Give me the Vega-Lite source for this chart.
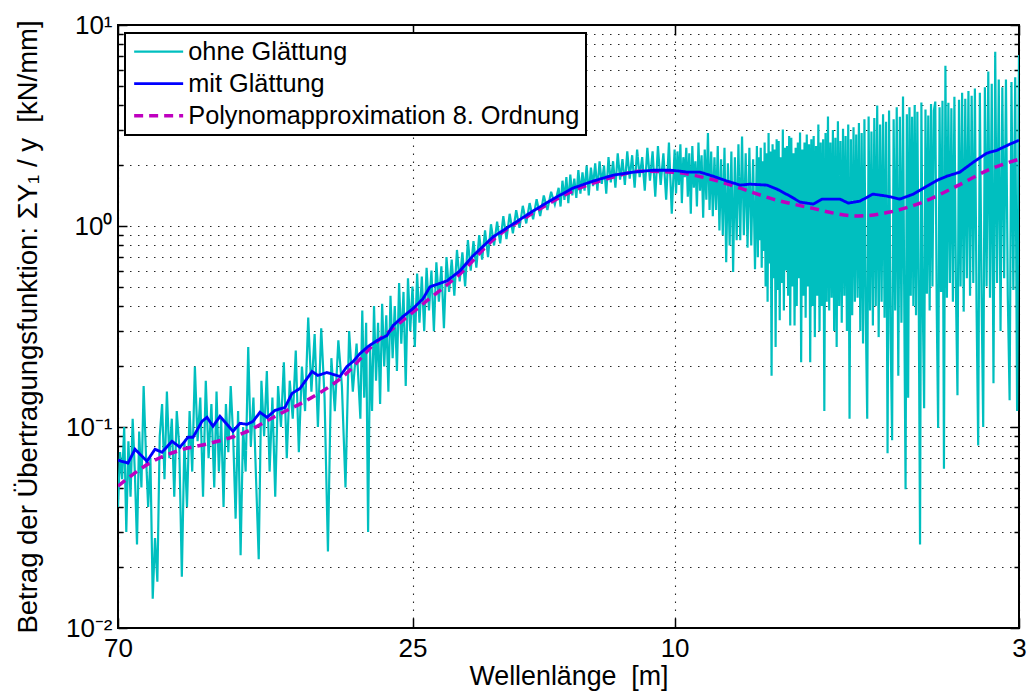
{
"$schema": "https://vega.github.io/schema/vega-lite/v6.json",
"width": 901, "height": 603,
"autosize": {"type": "none"},
"padding": {"left": 118, "top": 25, "right": 8, "bottom": 70},
"background": "white",
"config": {
  "font": "Liberation Sans",
  "view": {"stroke": "black", "strokeWidth": 2},
  "axis": {"domain": false, "labelColor": "black", "titleColor": "black", "titleFontWeight": "normal", "tickColor": "black", "tickWidth": 1.5, "labelFontSize": 26, "titleFontSize": 26.8, "grid": true, "gridDash": [1.5, 6.5], "gridColor": "black", "gridOpacity": 0.85, "gridWidth": 1.1, "labelOverlap": false, "labelBound": false, "labelFlush": false},
  "legend": {"strokeWidth": 2}
},
"datasets": {
"cyan": [
{"s":"a","l":70,"v":0.040},{"s":"a","l":69.5,"v":0.075},{"s":"a","l":69,"v":0.055},{"s":"a","l":68.5,"v":0.10},{"s":"a","l":68,"v":0.030},{"s":"a","l":67.5,"v":0.085},{"s":"a","l":67,"v":0.045},{"s":"a","l":66.5,"v":0.11},{"s":"a","l":66,"v":0.060},{"s":"a","l":65.5,"v":0.026},{"s":"a","l":65,"v":0.095},{"s":"a","l":64.5,"v":0.050},{"s":"a","l":64,"v":0.16},{"s":"a","l":63.5,"v":0.075},{"s":"a","l":63,"v":0.040},{"s":"a","l":62.5,"v":0.070},{"s":"a","l":62,"v":0.014},{"s":"a","l":61.5,"v":0.028},{"s":"a","l":61,"v":0.017},{"s":"a","l":60.5,"v":0.090},{"s":"a","l":60,"v":0.13},{"s":"a","l":59.5,"v":0.055},{"s":"a","l":59,"v":0.15},{"s":"a","l":58.5,"v":0.070},{"s":"a","l":58,"v":0.11},{"s":"a","l":57.5,"v":0.045},{"s":"a","l":57,"v":0.12},{"s":"a","l":56.5,"v":0.080},{"s":"a","l":56,"v":0.018},{"s":"a","l":55.5,"v":0.085},{"s":"a","l":55,"v":0.040},{"s":"a","l":54.5,"v":0.12},{"s":"a","l":54,"v":0.060},{"s":"a","l":53.5,"v":0.20},{"s":"a","l":53,"v":0.085},{"s":"a","l":52.5,"v":0.14},{"s":"a","l":52,"v":0.045},{"s":"a","l":51.5,"v":0.17},{"s":"a","l":51,"v":0.070},{"s":"a","l":50.5,"v":0.13},{"s":"a","l":50,"v":0.050},
{"s":"a","l":49.6,"v":0.15},{"s":"a","l":49.2,"v":0.060},{"s":"a","l":48.8,"v":0.11},{"s":"a","l":48.4,"v":0.040},{"s":"a","l":48,"v":0.13},{"s":"a","l":47.6,"v":0.075},{"s":"a","l":47.2,"v":0.16},{"s":"a","l":46.8,"v":0.090},{"s":"a","l":46.4,"v":0.035},{"s":"a","l":46,"v":0.12},{"s":"a","l":45.6,"v":0.023},{"s":"a","l":45.2,"v":0.10},{"s":"a","l":44.8,"v":0.060},{"s":"a","l":44.4,"v":0.25},{"s":"a","l":44,"v":0.080},{"s":"a","l":43.6,"v":0.14},{"s":"a","l":43.2,"v":0.055},{"s":"a","l":42.8,"v":0.022},{"s":"a","l":42.4,"v":0.17},{"s":"a","l":42,"v":0.090},{"s":"a","l":41.6,"v":0.19},{"s":"a","l":41.2,"v":0.060},{"s":"a","l":40.8,"v":0.14},{"s":"a","l":40.4,"v":0.045},{"s":"a","l":40,"v":0.16},{"s":"a","l":39.6,"v":0.10},{"s":"a","l":39.2,"v":0.21},{"s":"a","l":38.8,"v":0.070},{"s":"a","l":38.4,"v":0.17},{"s":"a","l":38,"v":0.11},{"s":"a","l":37.6,"v":0.24},{"s":"a","l":37.2,"v":0.075},{"s":"a","l":36.8,"v":0.20},{"s":"a","l":36.4,"v":0.12},{"s":"a","l":36,"v":0.35},{"s":"a","l":35.6,"v":0.15},{"s":"a","l":35.2,"v":0.29},{"s":"a","l":34.8,"v":0.10},{"s":"a","l":34.4,"v":0.31},{"s":"a","l":34,"v":0.14},{"s":"a","l":33.6,"v":0.024},{"s":"a","l":33.2,"v":0.22},{"s":"a","l":32.8,"v":0.12},{"s":"a","l":32.4,"v":0.27},{"s":"a","l":32,"v":0.16},{"s":"a","l":31.6,"v":0.050},{"s":"a","l":31.2,"v":0.30},{"s":"a","l":30.8,"v":0.15},{"s":"a","l":30.4,"v":0.26},{"s":"a","l":30,"v":0.11},
{"s":"a","l":29.8,"v":0.38},{"s":"a","l":29.6,"v":0.14},{"s":"a","l":29.4,"v":0.33},{"s":"a","l":29.2,"v":0.030},{"s":"a","l":29,"v":0.25},{"s":"a","l":28.8,"v":0.12},{"s":"a","l":28.6,"v":0.40},{"s":"a","l":28.4,"v":0.17},{"s":"a","l":28.2,"v":0.33},{"s":"a","l":28,"v":0.13},{"s":"a","l":27.8,"v":0.41},{"s":"a","l":27.6,"v":0.20},{"s":"a","l":27.4,"v":0.36},{"s":"a","l":27.2,"v":0.15},{"s":"a","l":27,"v":0.45},{"s":"a","l":26.8,"v":0.22},{"s":"a","l":26.6,"v":0.40},{"s":"a","l":26.4,"v":0.19},{"s":"a","l":26.2,"v":0.52},{"s":"a","l":26,"v":0.26},{"s":"a","l":25.8,"v":0.47},{"s":"a","l":25.6,"v":0.16},{"s":"a","l":25.4,"v":0.55},{"s":"a","l":25.2,"v":0.30},{"s":"a","l":25,"v":0.50},{"s":"a","l":24.8,"v":0.25},{"s":"a","l":24.6,"v":0.58},{"s":"a","l":24.4,"v":0.33},{"s":"a","l":24.2,"v":0.56},{"s":"a","l":24,"v":0.30},{"s":"a","l":23.8,"v":0.62},{"s":"a","l":23.6,"v":0.38},{"s":"a","l":23.4,"v":0.60},{"s":"a","l":23.2,"v":0.30},{"s":"a","l":23,"v":0.66},{"s":"a","l":22.8,"v":0.42},{"s":"a","l":22.6,"v":0.63},{"s":"a","l":22.4,"v":0.31},{"s":"a","l":22.2,"v":0.70},{"s":"a","l":22,"v":0.47},{"s":"a","l":21.8,"v":0.68},{"s":"a","l":21.6,"v":0.45},{"s":"a","l":21.4,"v":0.76},{"s":"a","l":21.2,"v":0.53},{"s":"a","l":21,"v":0.74},{"s":"a","l":20.8,"v":0.50},{"s":"a","l":20.6,"v":0.85},{"s":"a","l":20.4,"v":0.60},{"s":"a","l":20.2,"v":0.84},{"s":"a","l":20,"v":0.62},{"s":"a","l":19.8,"v":0.90},{"s":"a","l":19.6,"v":0.68},{"s":"a","l":19.4,"v":0.95},{"s":"a","l":19.2,"v":0.70},{"s":"a","l":19,"v":1.02},{"s":"a","l":18.8,"v":0.80},{"s":"a","l":18.6,"v":1.05},{"s":"a","l":18.4,"v":0.82},{"s":"a","l":18.2,"v":1.12},{"s":"a","l":18,"v":0.86},{"s":"a","l":17.8,"v":1.15},{"s":"a","l":17.6,"v":0.92},{"s":"a","l":17.4,"v":1.20},{"s":"a","l":17.2,"v":0.98},{"s":"a","l":17,"v":1.26},{"s":"a","l":16.8,"v":1.03},{"s":"a","l":16.6,"v":1.30},{"s":"a","l":16.4,"v":1.08},{"s":"a","l":16.2,"v":1.36},{"s":"a","l":16,"v":1.12},{"s":"a","l":15.8,"v":1.42},{"s":"a","l":15.6,"v":1.20},{"s":"a","l":15.4,"v":1.48},{"s":"a","l":15.2,"v":1.28},{"s":"a","l":15,"v":1.55},
{"s":"a","l":14.9,"v":1.25},{"s":"a","l":14.8,"v":1.68},{"s":"a","l":14.7,"v":1.35},{"s":"a","l":14.6,"v":1.75},{"s":"a","l":14.5,"v":1.30},{"s":"a","l":14.4,"v":1.80},{"s":"a","l":14.3,"v":1.42},{"s":"a","l":14.2,"v":1.72},{"s":"a","l":14.1,"v":1.38},{"s":"a","l":14,"v":1.90},{"s":"a","l":13.9,"v":1.45},{"s":"a","l":13.8,"v":1.85},{"s":"a","l":13.7,"v":1.50},{"s":"a","l":13.6,"v":2.00},{"s":"a","l":13.5,"v":1.42},{"s":"a","l":13.4,"v":1.95},{"s":"a","l":13.3,"v":1.58},{"s":"a","l":13.2,"v":2.05},{"s":"a","l":13.1,"v":1.50},{"s":"a","l":13,"v":2.10},{"s":"a","l":12.9,"v":1.62},{"s":"a","l":12.8,"v":2.00},{"s":"a","l":12.7,"v":1.45},{"s":"a","l":12.6,"v":2.20},{"s":"a","l":12.5,"v":1.65},{"s":"a","l":12.4,"v":2.10},{"s":"a","l":12.3,"v":1.55},{"s":"a","l":12.2,"v":2.30},{"s":"a","l":12.1,"v":1.70},{"s":"a","l":12,"v":2.15},{"s":"a","l":11.9,"v":1.60},{"s":"a","l":11.8,"v":2.35},{"s":"a","l":11.7,"v":1.72},{"s":"a","l":11.6,"v":2.25},{"s":"a","l":11.5,"v":1.55},{"s":"a","l":11.4,"v":2.40},{"s":"a","l":11.3,"v":1.75},{"s":"a","l":11.2,"v":2.20},{"s":"a","l":11.1,"v":1.50},{"s":"a","l":11,"v":2.45},{"s":"a","l":10.9,"v":1.68},{"s":"a","l":10.8,"v":2.35},{"s":"a","l":10.7,"v":1.40},{"s":"a","l":10.6,"v":2.50},{"s":"a","l":10.5,"v":1.60},{"s":"a","l":10.4,"v":2.30},{"s":"a","l":10.3,"v":1.35},{"s":"a","l":10.2,"v":2.60},{"s":"a","l":10.1,"v":1.15},{"s":"a","l":10,"v":2.40},
{"s":"a","l":9.95,"v":1.45},{"s":"a","l":9.9,"v":2.35},{"s":"a","l":9.85,"v":1.60},{"s":"a","l":9.8,"v":2.55},{"s":"a","l":9.75,"v":1.30},{"s":"a","l":9.7,"v":2.20},{"s":"a","l":9.65,"v":1.75},{"s":"a","l":9.6,"v":2.45},{"s":"a","l":9.55,"v":1.40},{"s":"a","l":9.5,"v":2.30},{"s":"a","l":9.45,"v":1.15},{"s":"a","l":9.4,"v":2.50},{"s":"a","l":9.35,"v":1.55},{"s":"a","l":9.3,"v":2.10},{"s":"a","l":9.25,"v":1.25},{"s":"a","l":9.2,"v":2.60},{"s":"a","l":9.15,"v":1.50},{"s":"a","l":9.1,"v":2.25},{"s":"a","l":9.05,"v":1.10},{"s":"a","l":9,"v":2.40},{"s":"a","l":8.95,"v":1.35},{"s":"a","l":8.9,"v":2.90},{"s":"a","l":8.85,"v":1.20},{"s":"a","l":8.8,"v":2.35},{"s":"a","l":8.75,"v":1.12},{"s":"a","l":8.7,"v":2.20},{"s":"a","l":8.65,"v":1.20},{"s":"a","l":8.6,"v":2.50},{"s":"a","l":8.55,"v":0.95},{"s":"a","l":8.5,"v":2.15},{"s":"a","l":8.45,"v":0.90},{"s":"a","l":8.4,"v":2.45},{"s":"a","l":8.35,"v":0.66},{"s":"a","l":8.3,"v":2.05},{"s":"a","l":8.25,"v":0.80},{"s":"a","l":8.2,"v":2.35},{"s":"a","l":8.15,"v":0.59},{"s":"a","l":8.1,"v":2.20},{"s":"a","l":8.05,"v":0.85},{"s":"a","l":8,"v":2.55},{"s":"a","l":7.95,"v":0.85},{"s":"a","l":7.9,"v":2.79},{"s":"a","l":7.85,"v":0.90},{"s":"a","l":7.8,"v":2.30},{"s":"a","l":7.75,"v":0.78},{"s":"a","l":7.7,"v":2.45},{"s":"a","l":7.65,"v":0.80},{"s":"a","l":7.6,"v":2.15},{"s":"a","l":7.55,"v":0.61},
{"s":"a","l":7.5,"v":2.50},{"s":"a","l":7.475,"v":0.70},{"s":"a","l":7.45,"v":2.20},{"s":"a","l":7.425,"v":0.85},{"s":"a","l":7.4,"v":2.45},{"s":"a","l":7.375,"v":0.62},{"s":"a","l":7.35,"v":2.10},{"s":"a","l":7.325,"v":0.75},{"s":"a","l":7.3,"v":2.60},{"s":"a","l":7.275,"v":0.50},{"s":"a","l":7.25,"v":2.30},{"s":"a","l":7.225,"v":0.42},{"s":"a","l":7.2,"v":2.90},{"s":"a","l":7.175,"v":0.65},{"s":"a","l":7.15,"v":2.35},{"s":"a","l":7.125,"v":0.18},{"s":"a","l":7.1,"v":2.55},{"s":"a","l":7.075,"v":0.55},{"s":"a","l":7.05,"v":2.40},{"s":"a","l":7.025,"v":0.25},{"s":"a","l":7,"v":2.70},{"s":"a","l":6.975,"v":0.48},{"s":"a","l":6.95,"v":2.65},{"s":"a","l":6.925,"v":0.34},{"s":"a","l":6.9,"v":2.20},{"s":"a","l":6.875,"v":0.52},{"s":"a","l":6.85,"v":3.02},{"s":"a","l":6.825,"v":0.38},{"s":"a","l":6.8,"v":2.45},{"s":"a","l":6.775,"v":0.60},{"s":"a","l":6.75,"v":2.50},{"s":"a","l":6.725,"v":0.45},{"s":"a","l":6.7,"v":2.80},{"s":"a","l":6.675,"v":0.32},{"s":"a","l":6.65,"v":2.75},{"s":"a","l":6.625,"v":0.50},{"s":"a","l":6.6,"v":2.30},{"s":"a","l":6.575,"v":0.32},{"s":"a","l":6.55,"v":2.45},{"s":"a","l":6.525,"v":0.40},{"s":"a","l":6.5,"v":2.60},{"s":"a","l":6.475,"v":0.55},{"s":"a","l":6.45,"v":2.92},{"s":"a","l":6.425,"v":0.21},{"s":"a","l":6.4,"v":2.40},{"s":"a","l":6.375,"v":0.45},{"s":"a","l":6.35,"v":2.60},{"s":"a","l":6.325,"v":0.35},{"s":"a","l":6.3,"v":2.85},{"s":"a","l":6.275,"v":0.50},{"s":"a","l":6.25,"v":2.55},{"s":"a","l":6.225,"v":0.21},{"s":"a","l":6.2,"v":2.70},{"s":"a","l":6.175,"v":0.40},{"s":"a","l":6.15,"v":2.80},{"s":"a","l":6.125,"v":0.28},{"s":"a","l":6.1,"v":2.50},{"s":"a","l":6.075,"v":0.45},{"s":"a","l":6.05,"v":3.20},{"s":"a","l":6.025,"v":0.30},{"s":"a","l":6,"v":2.60},
{"s":"a","l":5.975,"v":0.40},{"s":"a","l":5.95,"v":2.70},{"s":"a","l":5.925,"v":0.12},{"s":"a","l":5.9,"v":2.90},{"s":"a","l":5.875,"v":0.42},{"s":"a","l":5.85,"v":3.51},{"s":"a","l":5.825,"v":0.38},{"s":"a","l":5.8,"v":2.60},{"s":"a","l":5.775,"v":0.44},{"s":"a","l":5.75,"v":3.00},{"s":"a","l":5.725,"v":0.30},{"s":"a","l":5.7,"v":2.75},{"s":"a","l":5.675,"v":0.25},{"s":"a","l":5.65,"v":3.32},{"s":"a","l":5.625,"v":0.40},{"s":"a","l":5.6,"v":2.65},{"s":"a","l":5.575,"v":0.33},{"s":"a","l":5.55,"v":3.05},{"s":"a","l":5.525,"v":0.45},{"s":"a","l":5.5,"v":2.80},{"s":"a","l":5.475,"v":0.30},{"s":"a","l":5.45,"v":3.20},{"s":"a","l":5.425,"v":0.11},{"s":"a","l":5.4,"v":2.70},{"s":"a","l":5.375,"v":0.36},{"s":"a","l":5.35,"v":3.10},{"s":"a","l":5.325,"v":0.42},{"s":"a","l":5.3,"v":2.85},{"s":"a","l":5.275,"v":0.44},{"s":"a","l":5.25,"v":3.25},{"s":"a","l":5.225,"v":0.30},{"s":"a","l":5.2,"v":2.90},{"s":"a","l":5.175,"v":0.26},{"s":"a","l":5.15,"v":3.40},{"s":"a","l":5.125,"v":0.35},{"s":"a","l":5.1,"v":0.11},{"s":"a","l":5.075,"v":3.51},{"s":"a","l":5.05,"v":0.38},{"s":"a","l":5.025,"v":2.95},{"s":"a","l":5,"v":0.32},{"s":"a","l":4.975,"v":3.45},{"s":"a","l":4.95,"v":0.40},{"s":"a","l":4.925,"v":3.98},{"s":"a","l":4.9,"v":0.28},{"s":"a","l":4.875,"v":3.20},{"s":"a","l":4.85,"v":0.42},{"s":"a","l":4.825,"v":3.60},{"s":"a","l":4.8,"v":0.35},{"s":"a","l":4.775,"v":3.30},{"s":"a","l":4.75,"v":0.074},{"s":"a","l":4.725,"v":3.75},{"s":"a","l":4.7,"v":0.30},{"s":"a","l":4.675,"v":0.086},{"s":"a","l":4.65,"v":3.40},{"s":"a","l":4.625,"v":0.38},{"s":"a","l":4.6,"v":3.90},{"s":"a","l":4.575,"v":0.18},{"s":"a","l":4.55,"v":3.50},{"s":"a","l":4.525,"v":0.33},{"s":"a","l":4.5,"v":4.41},
{"s":"a","l":4.48,"v":0.38},{"s":"a","l":4.46,"v":0.049},{"s":"a","l":4.44,"v":3.60},{"s":"a","l":4.42,"v":0.14},{"s":"a","l":4.4,"v":3.90},{"s":"a","l":4.38,"v":0.45},{"s":"a","l":4.36,"v":3.50},{"s":"a","l":4.34,"v":0.40},{"s":"a","l":4.32,"v":4.00},{"s":"a","l":4.3,"v":0.36},{"s":"a","l":4.28,"v":3.70},{"s":"a","l":4.26,"v":0.48},{"s":"a","l":4.24,"v":0.026},{"s":"a","l":4.22,"v":4.12},{"s":"a","l":4.2,"v":0.42},{"s":"a","l":4.18,"v":0.124},{"s":"a","l":4.16,"v":3.80},{"s":"a","l":4.14,"v":0.46},{"s":"a","l":4.12,"v":3.55},{"s":"a","l":4.1,"v":0.38},{"s":"a","l":4.08,"v":4.05},{"s":"a","l":4.06,"v":0.50},{"s":"a","l":4.04,"v":3.75},{"s":"a","l":4.02,"v":4.16},{"s":"a","l":4,"v":0.40},{"s":"a","l":3.98,"v":0.099},{"s":"a","l":3.96,"v":3.90},{"s":"a","l":3.94,"v":0.47},{"s":"a","l":3.92,"v":4.20},{"s":"a","l":3.9,"v":0.062},{"s":"a","l":3.88,"v":6.27},{"s":"a","l":3.86,"v":0.44},{"s":"a","l":3.84,"v":4.10},{"s":"a","l":3.82,"v":0.52},{"s":"a","l":3.8,"v":3.85},{"s":"a","l":3.78,"v":0.42},{"s":"a","l":3.76,"v":4.40},{"s":"a","l":3.74,"v":0.48},{"s":"a","l":3.72,"v":0.144},{"s":"a","l":3.7,"v":4.25},{"s":"a","l":3.68,"v":0.50},{"s":"a","l":3.66,"v":4.60},{"s":"a","l":3.64,"v":0.375},{"s":"a","l":3.62,"v":4.30},{"s":"a","l":3.6,"v":0.55},{"s":"a","l":3.58,"v":4.70},{"s":"a","l":3.56,"v":0.45},{"s":"a","l":3.54,"v":4.45},{"s":"a","l":3.52,"v":0.52},{"s":"a","l":3.5,"v":4.83},{"s":"a","l":3.48,"v":0.40},{"s":"a","l":3.46,"v":0.081},{"s":"a","l":3.44,"v":4.60},{"s":"a","l":3.42,"v":0.48},{"s":"a","l":3.4,"v":0.10},{"s":"a","l":3.38,"v":4.90},{"s":"a","l":3.36,"v":0.50},{"s":"a","l":3.34,"v":5.87},{"s":"a","l":3.32,"v":0.44},{"s":"a","l":3.3,"v":5.10},{"s":"a","l":3.28,"v":0.165},{"s":"a","l":3.26,"v":7.37},{"s":"a","l":3.24,"v":0.52},{"s":"a","l":3.22,"v":5.35},{"s":"a","l":3.2,"v":0.30},{"s":"a","l":3.18,"v":4.90},{"s":"a","l":3.16,"v":0.55},{"s":"a","l":3.14,"v":5.35},{"s":"a","l":3.12,"v":0.45},{"s":"a","l":3.1,"v":0.136},{"s":"a","l":3.08,"v":5.20},{"s":"a","l":3.06,"v":0.48},{"s":"a","l":3.04,"v":5.50},{"s":"a","l":3.02,"v":0.12},{"s":"a","l":3,"v":7.10}
],
"blue": [
{"s":"b","l":70,"v":0.0684},{"s":"b","l":67.6,"v":0.0661},{"s":"b","l":65.96,"v":0.0775},{"s":"b","l":63.25,"v":0.0676},{"s":"b","l":61.51,"v":0.0775},{"s":"b","l":60.02,"v":0.0749},{"s":"b","l":57.96,"v":0.0849},{"s":"b","l":56.36,"v":0.0793},{"s":"b","l":54.8,"v":0.0889},{"s":"b","l":53.85,"v":0.0889},{"s":"b","l":52.19,"v":0.1067},{"s":"b","l":51.28,"v":0.1117},{"s":"b","l":50.22,"v":0.1008},{"s":"b","l":49.01,"v":0.113},{"s":"b","l":46.83,"v":0.0952},{"s":"b","l":45.7,"v":0.1043},{"s":"b","l":44.59,"v":0.1031},{"s":"b","l":43.66,"v":0.1067},{"s":"b","l":42.61,"v":0.1183},{"s":"b","l":41.58,"v":0.1117},{"s":"b","l":40.43,"v":0.121},{"s":"b","l":39.04,"v":0.1252},{"s":"b","l":38.1,"v":0.1469},{"s":"b","l":37.05,"v":0.1555},{"s":"b","l":35.52,"v":0.1889},{"s":"b","l":34.8,"v":0.1805},{"s":"b","l":33.72,"v":0.1867},{"s":"b","l":32.22,"v":0.1784},{"s":"b","l":31.44,"v":0.2},{"s":"b","l":30.78,"v":0.2117},{"s":"b","l":30.04,"v":0.2319},{"s":"b","l":29.21,"v":0.2513},{"s":"b","l":28.31,"v":0.2691},{"s":"b","l":27.34,"v":0.2849},{"s":"b","l":26.77,"v":0.3193},{"s":"b","l":25.86,"v":0.3538},{"s":"b","l":24.97,"v":0.3877},{"s":"b","l":24.1,"v":0.4346},{"s":"b","l":23.52,"v":0.4983},{"s":"b","l":22.16,"v":0.5337},{"s":"b","l":21.18,"v":0.5981},{"s":"b","l":20.24,"v":0.71},{"s":"b","l":18.87,"v":0.8821},{"s":"b","l":17.59,"v":1.023},{"s":"b","l":16.41,"v":1.187},{"s":"b","l":15.3,"v":1.361},{"s":"b","l":14.27,"v":1.543},{"s":"b","l":13.3,"v":1.672},{"s":"b","l":12.4,"v":1.79},{"s":"b","l":11.56,"v":1.853},{"s":"b","l":10.78,"v":1.895},{"s":"b","l":10.16,"v":1.895},{"s":"b","l":9.81,"v":1.874},{"s":"b","l":9.57,"v":1.853},{"s":"b","l":9.15,"v":1.853},{"s":"b","l":8.74,"v":1.769},{"s":"b","l":8.32,"v":1.672},{"s":"b","l":7.95,"v":1.597},{"s":"b","l":7.69,"v":1.615},{"s":"b","l":7.24,"v":1.597},{"s":"b","l":6.99,"v":1.525},{"s":"b","l":6.68,"v":1.408},{"s":"b","l":6.45,"v":1.315},{"s":"b","l":6.16,"v":1.286},{"s":"b","l":5.97,"v":1.361},{"s":"b","l":5.61,"v":1.361},{"s":"b","l":5.45,"v":1.3},{"s":"b","l":5.23,"v":1.33},{"s":"b","l":5.0,"v":1.441},{"s":"b","l":4.76,"v":1.408},{"s":"b","l":4.55,"v":1.361},{"s":"b","l":4.34,"v":1.441},{"s":"b","l":4.14,"v":1.579},{"s":"b","l":3.99,"v":1.691},{"s":"b","l":3.86,"v":1.769},{"s":"b","l":3.69,"v":1.853},{"s":"b","l":3.52,"v":2.076},{"s":"b","l":3.36,"v":2.301},{"s":"b","l":3.24,"v":2.381},{"s":"b","l":3.1,"v":2.55},{"s":"b","l":3.0,"v":2.67}
],
"poly": [
{"s":"c","l":70,"v":0.0508},{"s":"c","l":61.94,"v":0.0676},{"s":"c","l":56.36,"v":0.0766},{"s":"c","l":50.76,"v":0.083},{"s":"c","l":45.21,"v":0.0931},{"s":"c","l":40.15,"v":0.1143},{"s":"c","l":35.77,"v":0.1387},{"s":"c","l":31.87,"v":0.1783},{"s":"c","l":28.31,"v":0.266},{"s":"c","l":26.77,"v":0.309},{"s":"c","l":23.77,"v":0.425},{"s":"c","l":21.18,"v":0.578},{"s":"c","l":18.87,"v":0.852},{"s":"c","l":16.41,"v":1.16},{"s":"c","l":14.27,"v":1.491},{"s":"c","l":12.4,"v":1.75},{"s":"c","l":11.28,"v":1.874},{"s":"c","l":10.06,"v":1.853},{"s":"c","l":8.93,"v":1.729},{"s":"c","l":7.95,"v":1.542},{"s":"c","l":7.09,"v":1.361},{"s":"c","l":6.29,"v":1.242},{"s":"c","l":5.28,"v":1.121},{"s":"c","l":4.71,"v":1.173},{"s":"c","l":4.2,"v":1.315},{"s":"c","l":3.73,"v":1.578},{"s":"c","l":3.32,"v":1.917},{"s":"c","l":3.0,"v":2.148}
]
},
"encoding": {
  "x": {"field": "l", "type": "quantitative",
    "scale": {"type": "log", "domain": [3, 70], "reverse": true, "nice": false},
    "axis": {"values": [70, 25, 10, 3], "format": "d", "tickSize": -10, "labelPadding": 17, "title": "Wellenlänge\u00a0 [m]", "titlePadding": 2}},
  "y": {"field": "v", "type": "quantitative",
    "scale": {"type": "log", "domain": [0.01, 10], "nice": false},
    "axis": {"values": [0.01,0.02,0.03,0.04,0.05,0.06,0.07,0.08,0.09,0.1,0.2,0.3,0.4,0.5,0.6,0.7,0.8,0.9,1,2,3,4,5,6,7,8,9,10],
      "labelExpr": "datum.value === 0.01 ? '10⁻²' : datum.value === 0.1 ? '10⁻¹' : datum.value === 1 ? '10⁰' : datum.value === 10 ? '10¹' : ''",
      "tickSize": {"condition": {"test": "datum.value === 0.01 || datum.value === 0.1 || datum.value === 1 || datum.value === 10", "value": -9}, "value": -5},
      "labelPadding": 15, "title": "Betrag der Übertragungsfunktion: ΣY₁ / y\u00a0 [kN/mm]", "titleFontSize": 27.5, "titlePadding": 23}},
  "color": {"field": "s", "type": "nominal",
    "scale": {"domain": ["a", "b", "c"], "range": ["#00BFBF", "#0000FF", "#BF00BF"]},
    "legend": {"orient": "none", "legendX": 7, "legendY": 8, "title": null,
      "labelExpr": "datum.label == 'a' ? 'ohne Glättung' : datum.label == 'b' ? 'mit Glättung' : 'Polynomapproximation 8. Ordnung'",
      "symbolType": "M-2.45,0H2.45", "symbolSize": 400, "symbolOffset": 15, "labelFontSize": 25.3, "labelColor": "black", "labelLimit": 0,
      "strokeColor": "black", "fillColor": "white", "padding": 6, "rowPadding": 6, "labelOffset": 17}},
  "strokeDash": {"field": "s", "type": "nominal", "scale": {"domain": ["a", "b", "c"], "range": [[1, 0], [1, 0], [9, 6]]}, "legend": null},
  "strokeWidth": {"field": "s", "type": "ordinal", "scale": {"domain": ["a", "b", "c"], "range": [2.2, 3.5, 2.5]}, "legend": null}
},
"resolve": {"axis": {"x": "independent", "y": "independent"}},
"layer": [
  {"data": {"name": "cyan"}, "mark": {"type": "line", "clip": true}},
  {"data": {"name": "poly"}, "mark": {"type": "line", "interpolate": "monotone", "clip": true},
   "encoding": {"x": {"field": "l", "type": "quantitative", "axis": null}, "y": {"field": "v", "type": "quantitative", "axis": null}}},
  {"data": {"name": "blue"}, "mark": {"type": "line", "clip": true},
   "encoding": {
     "x": {"field": "l", "type": "quantitative", "axis": {"orient": "top", "values": [70, 25, 10, 3], "labels": false, "title": null, "grid": false, "tickSize": -10}},
     "y": {"field": "v", "type": "quantitative", "axis": {"orient": "right", "values": [0.01,0.02,0.03,0.04,0.05,0.06,0.07,0.08,0.09,0.1,0.2,0.3,0.4,0.5,0.6,0.7,0.8,0.9,1,2,3,4,5,6,7,8,9,10], "labels": false, "title": null, "grid": false,
       "tickSize": {"condition": {"test": "datum.value === 0.01 || datum.value === 0.1 || datum.value === 1 || datum.value === 10", "value": -9}, "value": -5}}}}}
]
}
